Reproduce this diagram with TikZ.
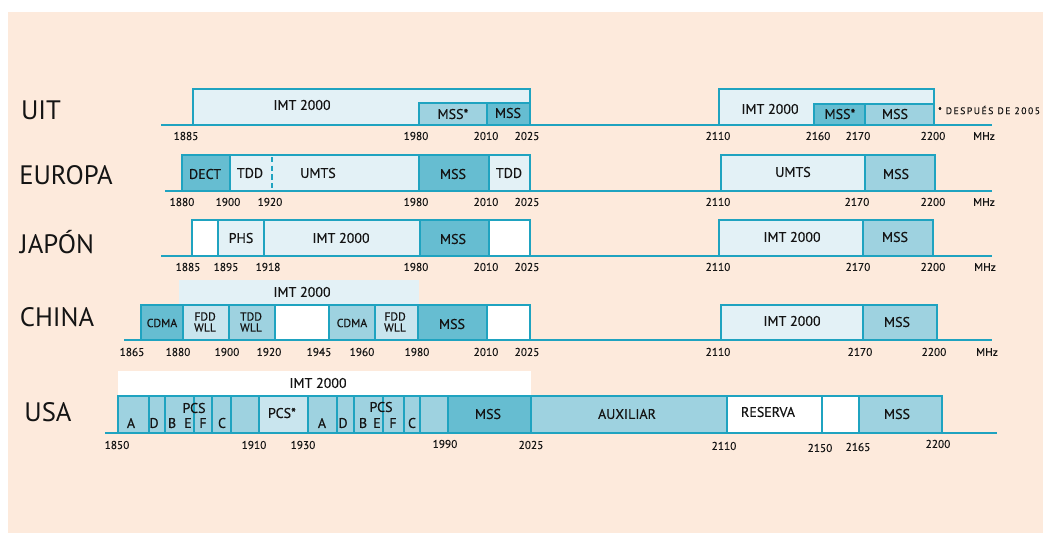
\documentclass[tikz,border=0pt]{standalone}
\usepackage{fontspec}
\setmainfont{PT Sans}
\newfontfamily\labfont[FakeBold=0.35]{PT Sans}
\definecolor{peach}{HTML}{FDEADC}
\definecolor{edge}{HTML}{1FA3C0}
\definecolor{pale}{HTML}{E3F1F6}
\definecolor{pale2}{HTML}{C9E5EE}
\definecolor{med}{HTML}{9ED2E0}
\definecolor{dark}{HTML}{66BDD1}
\definecolor{ink}{HTML}{141414}
\newcommand\bx[6]{\node[bxs,fill=#6,minimum width={(#3-#2)*0.75pt},minimum height={(#5-#4)*0.75pt},anchor=north west] (#1) at (#2,#4) {};}
\newcommand\tx[4]{\node[boxtext] (#1) at (#2,#3) {#4};}
\newcommand\tk[4]{\node[ticktext] (#1) at (#2,#3) {#4};}
\begin{document}
\begin{tikzpicture}[x=0.75pt,y=-0.75pt,
  bxs/.style={draw=edge,line width=1.3pt,inner sep=0pt,outer sep=0pt},
  axisline/.style={draw=edge,line width=2pt},
  boxtext/.style={text=ink,font=\labfont\fontsize{10.5}{11}\selectfont,inner sep=0pt},
  smalltext/.style={text=ink,font=\labfont\fontsize{8.8}{8.2}\selectfont,inner sep=0pt,align=center},
  ticktext/.style={text=ink,font=\labfont\fontsize{8.5}{9}\selectfont,inner sep=0pt},
  rowname/.style={text=ink,font=\fontsize{20}{22}\selectfont,inner sep=0pt}]
\useasboundingbox (0,0) rectangle (1043,533);
\fill[white] (0,0) rectangle (1043,533);
\fill[peach] (8,12) rectangle (1043,533);

% ---------------- UIT ----------------
\node[rowname] (nUIT) at (41,110) {UIT};
\bx{u1}{193}{530}{89}{125}{pale}
\bx{u2}{419}{487}{103}{125}{med}
\bx{u3}{487}{530}{103}{125}{dark}
\bx{u4}{719}{934}{89}{125}{pale}
\bx{u5}{814}{865}{104}{125}{dark}
\bx{u6}{865}{934}{104}{125}{med}
\tx{ut1}{302}{105}{IMT 2000}
\tx{ut2}{453}{114}{MSS*}
\tx{ut3}{508}{113}{MSS}
\tx{ut4}{770}{109}{IMT 2000}
\tx{ut5}{840}{114}{MSS*}
\tx{ut6}{895}{114}{MSS}
\node[text=ink,font=\labfont\fontsize{7.2}{7.5}\selectfont\addfontfeature{LetterSpace=16},inner sep=0pt,anchor=west] (unote) at (938,110) {* DESPUÉS DE 2005};
\coordinate (uA) at (161,125); \coordinate (uB) at (992,125);
\draw[axisline] (uA) -- (uB);
\tk{uk1}{186}{136}{1885}
\tk{uk2}{416}{136}{1980}
\tk{uk3}{486}{136}{2010}
\tk{uk4}{527}{136}{2025}
\tk{uk5}{718}{136}{2110}
\tk{uk6}{818}{136}{2160}
\tk{uk7}{858}{136}{2170}
\tk{uk8}{933}{136}{2200}
\tk{uk9}{984}{136}{MHz}

% ---------------- EUROPA ----------------
\node[rowname] (nEU) at (66,175) {EUROPA};
\bx{e1}{182}{230}{155}{191}{dark}
\bx{e2}{230}{419}{155}{191}{pale}
\bx{e3}{419}{489}{155}{191}{dark}
\bx{e4}{489}{530}{155}{191}{pale}
\bx{e5}{721}{865}{155}{191}{pale}
\bx{e6}{865}{935}{155}{191}{med}
\coordinate (eD1) at (272,157); \coordinate (eD2) at (272,189);
\draw[draw=edge,line width=1.3pt,dash pattern=on 4pt off 2.5pt] (eD1) -- (eD2);
\tx{et1}{205}{174}{DECT}
\tx{et2}{250}{173}{TDD}
\tx{et3}{318}{173}{UMTS}
\tx{et4}{453}{174}{MSS}
\tx{et5}{509}{173}{TDD}
\tx{et6}{793}{172}{UMTS}
\tx{et7}{896}{174}{MSS}
\coordinate (eA) at (165,191); \coordinate (eB) at (992,191);
\draw[axisline] (eA) -- (eB);
\tk{ek1}{182}{202}{1880}
\tk{ek2}{228}{202}{1900}
\tk{ek3}{270}{202}{1920}
\tk{ek4}{416}{202}{1980}
\tk{ek5}{486}{202}{2010}
\tk{ek6}{527}{202}{2025}
\tk{ek7}{718}{202}{2110}
\tk{ek8}{857}{202}{2170}
\tk{ek9}{933}{202}{2200}
\tk{ek10}{984}{202}{MHz}

% ---------------- JAPON ----------------
\node[rowname] (nJP) at (57,242) {JAPÓN};
\bx{j1}{192}{218}{220}{256}{white}
\bx{j2}{218}{264}{220}{256}{pale}
\bx{j3}{264}{420}{220}{256}{pale}
\bx{j4}{420}{489}{220}{256}{dark}
\bx{j5}{489}{530}{220}{256}{white}
\bx{j6}{719}{863}{220}{256}{pale}
\bx{j7}{863}{933}{220}{256}{med}
\tx{jt1}{241}{238}{PHS}
\tx{jt2}{341}{238}{IMT 2000}
\tx{jt3}{453}{239}{MSS}
\tx{jt4}{792}{237}{IMT 2000}
\tx{jt5}{895}{237}{MSS}
\coordinate (jA) at (161,256); \coordinate (jB) at (992,256);
\draw[axisline] (jA) -- (jB);
\tk{jk1}{188}{267}{1885}
\tk{jk2}{226}{267}{1895}
\tk{jk3}{268}{267}{1918}
\tk{jk4}{416}{267}{1980}
\tk{jk5}{486}{267}{2010}
\tk{jk6}{527}{267}{2025}
\tk{jk7}{718}{267}{2110}
\tk{jk8}{858}{267}{2170}
\tk{jk9}{933}{267}{2200}
\tk{jk10}{985}{267}{MHz}

% ---------------- CHINA ----------------
\node[rowname] (nCN) at (57,317) {CHINA};
\fill[pale] (179,280) rectangle (419,305);
\tx{ct0}{302}{292}{IMT 2000}
\bx{c1}{141}{183}{305}{340}{dark}
\bx{c2}{183}{229}{305}{340}{pale2}
\bx{c3}{229}{275}{305}{340}{med}
\bx{c4}{275}{329}{305}{340}{white}
\bx{c5}{329}{375}{305}{340}{med}
\bx{c6}{375}{418}{305}{340}{pale2}
\bx{c7}{418}{487}{305}{340}{dark}
\bx{c8}{487}{530}{305}{340}{white}
\bx{c9}{721}{863}{305}{340}{pale}
\bx{c10}{863}{937}{305}{340}{med}
\node[smalltext] (ct1) at (162,323) {CDMA};
\node[smalltext] (ct2) at (205,322) {FDD\\WLL};
\node[smalltext] (ct3) at (251,322) {TDD\\WLL};
\node[smalltext] (ct4) at (352,323) {CDMA};
\node[smalltext] (ct5) at (395,322) {FDD\\WLL};
\tx{ct6}{452}{324}{MSS}
\tx{ct7}{792}{321}{IMT 2000}
\tx{ct8}{897}{322}{MSS}
\coordinate (cA) at (124,340); \coordinate (cB) at (992,340);
\draw[axisline] (cA) -- (cB);
\tk{ck1}{132}{352}{1865}
\tk{ck2}{178}{352}{1880}
\tk{ck3}{227}{352}{1900}
\tk{ck4}{269}{352}{1920}
\tk{ck5}{319}{352}{1945}
\tk{ck6}{362}{352}{1960}
\tk{ck7}{417}{352}{1980}
\tk{ck8}{486}{352}{2010}
\tk{ck9}{527}{352}{2025}
\tk{ck10}{718}{352}{2110}
\tk{ck11}{860}{352}{2170}
\tk{ck12}{934}{352}{2200}
\tk{ck13}{987}{352}{MHz}

% ---------------- USA ----------------
\node[rowname] (nUS) at (48,412) {USA};
\fill[white] (118,371) rectangle (531,396);
\tx{st0}{318}{383}{IMT 2000}
\bx{s1}{118}{149}{396}{433}{med}
\bx{s2}{149}{165}{396}{433}{med}
\bx{s3}{165}{194}{396}{433}{med}
\bx{s4}{194}{212}{396}{433}{med}
\bx{s5}{212}{231}{396}{433}{med}
\bx{s6}{231}{259}{396}{433}{med}
\bx{s7}{259}{308}{396}{433}{pale2}
\bx{s8}{308}{337}{396}{433}{med}
\bx{s9}{337}{354}{396}{433}{med}
\bx{s10}{354}{383}{396}{433}{med}
\bx{s11}{383}{404}{396}{433}{med}
\bx{s12}{404}{420}{396}{433}{med}
\bx{s13}{420}{448}{396}{433}{med}
\bx{s14}{448}{531}{396}{433}{dark}
\bx{s15}{531}{727}{396}{433}{med}
\bx{s16}{727}{822}{396}{433}{white}
\bx{s17}{822}{859}{396}{433}{white}
\bx{s18}{859}{942}{396}{433}{med}
\tx{sa1}{131}{423}{A}
\tx{sd1}{154}{423}{D}
\tx{sb1}{172}{423}{B}
\tx{se1}{188}{423}{E}
\tx{sf1}{203}{423}{F}
\tx{sc1}{222}{423}{C}
\tx{sp1}{194}{408}{PCS}
\tx{sp2}{282}{413}{PCS*}
\tx{sa2}{322}{423}{A}
\tx{sd2}{343}{423}{D}
\tx{sb2}{363}{423}{B}
\tx{se2}{377}{423}{E}
\tx{sf2}{393}{423}{F}
\tx{sc2}{412}{423}{C}
\tx{sp3}{381}{407}{PCS}
\tx{sm1}{488}{414}{MSS}
\tx{sx1}{627}{414}{AUXILIAR}
\tx{sr1}{768}{412}{RESERVA}
\tx{sm2}{897}{414}{MSS}
\coordinate (sA) at (105,433); \coordinate (sB) at (997,433);
\draw[axisline] (sA) -- (sB);
\tk{sk1}{117}{445}{1850}
\tk{sk2}{254}{445}{1910}
\tk{sk3}{303}{445}{1930}
\tk{sk4}{445}{444}{1990}
\tk{sk5}{531}{445}{2025}
\tk{sk6}{724}{446}{2110}
\tk{sk7}{820}{448}{2150}
\tk{sk8}{858}{447}{2165}
\tk{sk9}{938}{444}{2200}
\end{tikzpicture}
\end{document}
